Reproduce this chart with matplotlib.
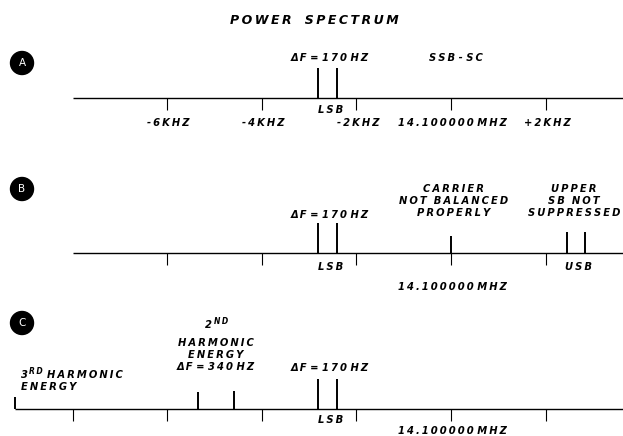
import matplotlib.pyplot as plt
from matplotlib.patches import Circle
import numpy as np

# spectral lines: offset from 14.100000 MHz in kHz, height in relative power units
a_lsb_khz = [-2.81, -2.41]
a_lsb_pow = [30, 30]

b_lsb_khz = [-2.81, -2.41]
b_lsb_pow = [30, 30]
b_carrier_khz = [0.0]
b_carrier_pow = [17]
b_usb_khz = [2.45, 2.83]
b_usb_pow = [21, 21]

c_lsb_khz = [-2.81, -2.41]
c_lsb_pow = [30, 30]
c_h2_khz = [-5.35, -4.59]
c_h2_pow = [17, 18]
c_h3_khz = [-9.22]
c_h3_pow = [12.5]

ab_ticks = [-6, -4, -2, 0, 2]
c_ticks = [-8, -6, -4, -2, 0, 2]
a_tick_labels = ['-6KHZ', '-4KHZ', '-2KHZ', '14.100000 MHZ', '+2KHZ']
center_label = '14.100000 MHZ'

W, H, DPI = 623, 436, 100
PX_PER_KHZ = 47.3
ZERO_PX = 451
XLIM = (-ZERO_PX / PX_PER_KHZ, (W - ZERO_PX) / PX_PER_KHZ)
FONT = dict(fontsize=7.2, fontweight='bold', style='italic', color='black')
GAP = '\u2009'


def spaced(s):
    """Letter-spaced text, like the stencil lettering of the original"""
    out = []
    for line in s.split('\n'):
        words = line.split(' ')
        out.append(' '.join(GAP.join(w) for w in words))
    return '\n'.join(out)


fig = plt.figure(figsize=(W / DPI, H / DPI), dpi=DPI)


def panel(baseline_px, x_start, ticks):
    """Axes whose y units are pixels measured upward from the baseline"""
    top, bottom = 95, 45
    ax = fig.add_axes([0, 1 - (baseline_px + bottom) / H, 1, (top + bottom) / H])
    ax.set_xlim(*XLIM)
    ax.set_ylim(-bottom, top)
    ax.axis('off')
    ax.hlines(0, x_start, XLIM[1], color='black', lw=1.0)
    ax.vlines(ticks, -12, 0, color='black', lw=0.8)
    return ax


def spikes(ax, f, p):
    ax.vlines(f, 0, p, color='black', lw=1.4)


def label(ax, x, y, s, **kw):
    opts = dict(FONT, ha='center', va='center', linespacing=1.3)
    opts.update(kw)
    ax.text(x, y, spaced(s), **opts)


# Panel A
ax_a = panel(98, -8.0, ab_ticks)
spikes(ax_a, a_lsb_khz, a_lsb_pow)
label(ax_a, np.mean(a_lsb_khz) + 0.05, 40, 'ΔF = 170 HZ')
label(ax_a, 0.1, 40, 'SSB - SC')
label(ax_a, np.mean(a_lsb_khz) + 0.07, -12, 'LSB')
for t, s in zip(ab_ticks, a_tick_labels):
    label(ax_a, t + 0.03, -25, s)

# Panel B
ax_b = panel(253, -8.0, ab_ticks)
spikes(ax_b, b_lsb_khz, b_lsb_pow)
spikes(ax_b, b_carrier_khz, b_carrier_pow)
spikes(ax_b, b_usb_khz, b_usb_pow)
label(ax_b, np.mean(b_lsb_khz) + 0.05, 38, 'ΔF = 170 HZ')
label(ax_b, 0.06, 52, 'CARRIER\nNOT  BALANCED\nPROPERLY')
label(ax_b, 2.6, 52, 'UPPER\nSB  NOT\nSUPPRESSED')
label(ax_b, np.mean(b_lsb_khz) + 0.07, -14, 'LSB')
label(ax_b, np.mean(b_usb_khz) + 0.05, -14, 'USB')
label(ax_b, 0.04, -34, center_label)

# Panel C
ax_c = panel(409, c_h3_khz[0], c_ticks)
spikes(ax_c, c_lsb_khz, c_lsb_pow)
spikes(ax_c, c_h2_khz, c_h2_pow)
spikes(ax_c, c_h3_khz, c_h3_pow)
label(ax_c, np.mean(c_lsb_khz) + 0.05, 41, 'ΔF = 170 HZ')
h2x = np.mean(c_h2_khz)
label(ax_c, h2x - 0.15, 84, '2')
label(ax_c, h2x + 0.12, 88, 'ND', fontsize=5.5)
label(ax_c, h2x, 54, 'HARMONIC\nENERGY\nΔF = 340 HZ')
h3x = c_h3_khz[0] + 0.13
label(ax_c, h3x, 34, '3', ha='left')
label(ax_c, h3x + 0.16, 38, 'RD', ha='left', fontsize=5.5)
label(ax_c, h3x + 0.55, 34, 'HARMONIC', ha='left')
label(ax_c, h3x, 22, 'ENERGY', ha='left')
label(ax_c, np.mean(c_lsb_khz) + 0.07, -11, 'LSB')
label(ax_c, 0.04, -22, center_label)

# Overlay in pixel units for the title and the circled panel letters
ax0 = fig.add_axes([0, 0, 1, 1])
ax0.set_xlim(0, W)
ax0.set_ylim(H, 0)
ax0.axis('off')
ax0.text(314, 20, spaced('POWER   SPECTRUM'), ha='center', va='center',
         fontsize=9, fontweight='bold', style='italic')
for letter, y in zip(['A', 'B', 'C'], [63, 189, 323]):
    ax0.add_patch(Circle((22, y), 11.5, color='black'))
    ax0.text(22, y, letter, color='white', ha='center', va='center', fontsize=7.5)

fig.savefig('out.png', dpi=DPI)
